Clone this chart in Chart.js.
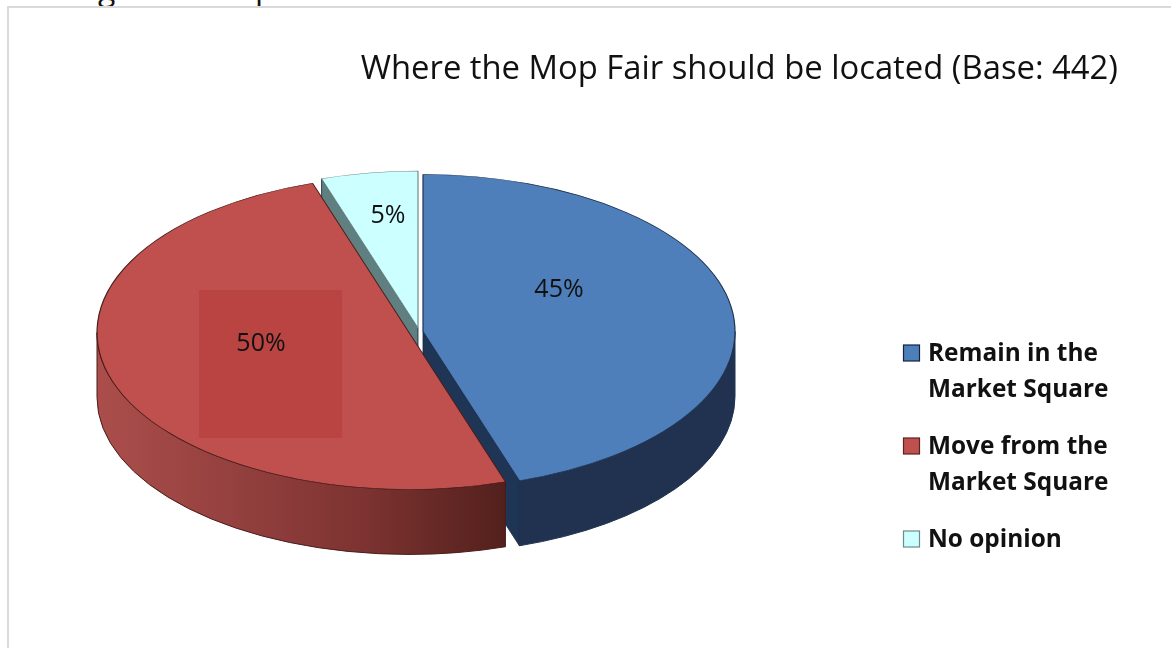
<!DOCTYPE html>
<html><head><meta charset="utf-8">
<script src="https://cdn.jsdelivr.net/npm/chart.js@4/dist/chart.umd.min.js"></script>
<style>
html,body{margin:0;padding:0;background:#fff;overflow:hidden;width:1171px;height:648px}
#frame{position:absolute;left:7px;top:6px;width:1300px;height:800px;border:2px solid #d9d9d9;box-sizing:border-box}
canvas{position:absolute;left:0;top:0}
.cut{position:absolute;font:32px "Open Sans";color:#111;line-height:40px}
</style></head><body>
<div class="cut" style="left:98px;top:-32px">g</div>
<div class="cut" style="left:255px;top:-32px">p</div>
<div id="frame"></div>
<canvas id="c" width="1171" height="648"></canvas>
<script>
const categories = ['Remain in the Market Square', 'Move from the Market Square', 'No opinion'];
const legendLines = [['Remain in the', 'Market Square'], ['Move from the', 'Market Square'], ['No opinion']];
const values = [45, 50, 5];
const titleText = 'Where the Mop Fair should be located (Base: 442)';

const sliceColors = ['#4f7fbb', '#c0504d', '#ccffff'];
const sliceBorders = ['#1e3350', '#4a1c1a', '#6f8a8a'];
const faceColors = ['#1f3555', '#5a2320', '#5f7f80'];
const centers = [[423, 331.5], [409, 332.5], [418, 328]];
const labelPos = [[559, 290], [261, 344], [388, 216]];
const squash = 0.503, depth = 65;
const legendY = [354, 447, 540], lineGap = 36.5;

const pie3d = {
  id: 'pie3d',
  beforeDatasetsDraw(chart) {
    const ctx = chart.ctx, arcs = chart.getDatasetMeta(0).data;
    const wall = (i, fill) => {
      const a = arcs[i], [cx, cy] = centers[i], R = a.outerRadius;
      const s = Math.max(a.startAngle, 0), e = Math.min(a.endAngle, Math.PI);
      if (e <= s) return;
      ctx.beginPath();
      ctx.ellipse(cx, cy, R, R * squash, 0, s, e);
      ctx.ellipse(cx, cy + depth, R, R * squash, 0, e, s, true);
      ctx.closePath();
      ctx.fillStyle = fill; ctx.fill();
      ctx.strokeStyle = sliceBorders[i]; ctx.lineWidth = 1; ctx.stroke();
    };
    const cutFace = (i, ang) => {
      const a = arcs[i], [cx, cy] = centers[i], R = a.outerRadius;
      const ex = cx + R * Math.cos(ang), ey = cy + R * squash * Math.sin(ang);
      ctx.beginPath();
      ctx.moveTo(cx, cy); ctx.lineTo(ex, ey); ctx.lineTo(ex, ey + depth); ctx.lineTo(cx, cy + depth);
      ctx.closePath();
      ctx.fillStyle = faceColors[i]; ctx.fill();
      ctx.strokeStyle = '#14233a'; ctx.lineWidth = 0.8; ctx.stroke();
    };
    const top = i => {
      const a = arcs[i], [cx, cy] = centers[i];
      ctx.save();
      ctx.translate(cx, cy); ctx.scale(1, squash); ctx.translate(-a.x, -a.y);
      a.draw(ctx);
      ctx.restore();
    };
    // green slice (back)
    cutFace(2, arcs[2].startAngle);
    top(2);
    // blue slice
    cutFace(0, arcs[0].endAngle);
    wall(0, '#20324f');
    top(0);
    // red slice (front)
    const g = ctx.createLinearGradient(97, 0, 507, 0);
    g.addColorStop(0, '#ab4e4b'); g.addColorStop(0.3, '#964240');
    g.addColorStop(0.65, '#7d3331'); g.addColorStop(1, '#52201c');
    wall(1, g);
    top(1);
    // tinted block behind the 50% label
    ctx.fillStyle = 'rgba(178,50,50,0.4)';
    ctx.fillRect(199, 290, 143, 148);
    // value labels
    ctx.fillStyle = '#111'; ctx.textAlign = 'center'; ctx.textBaseline = 'middle';
    ctx.font = '25px "Open Sans"';
    values.forEach((v, i) => ctx.fillText(v + '%', labelPos[i][0], labelPos[i][1]));
    return false;
  },
  afterDraw(chart) {
    const ctx = chart.ctx;
    ctx.save();
    ctx.textAlign = 'left'; ctx.textBaseline = 'middle';
    ctx.font = 'bold 24.4px "Open Sans"';
    legendLines.forEach((lines, i) => {
      const y = legendY[i];
      ctx.fillStyle = sliceColors[i];
      ctx.fillRect(903.5, y - 9, 16, 16);
      ctx.strokeStyle = ['#14233a', '#5a2320', '#6f8a8a'][i]; ctx.lineWidth = 1.2;
      ctx.strokeRect(903.5, y - 9, 16, 16);
      ctx.fillStyle = '#111';
      lines.forEach((t, j) => ctx.fillText(t, 928, y + j * lineGap));
    });
    ctx.restore();
  }
};

new Chart(document.getElementById('c'), {
  type: 'pie',
  data: {
    labels: categories,
    datasets: [{
      data: values,
      backgroundColor: sliceColors,
      borderColor: sliceBorders,
      borderWidth: 1.2,
      borderJoinStyle: 'bevel',
      clip: false
    }]
  },
  plugins: [pie3d],
  options: {
    responsive: false,
    animation: false,
    radius: 312,
    layout: { padding: { top: 50, right: 53, left: 0, bottom: 0 } },
    plugins: {
      legend: { display: false },
      tooltip: { enabled: false },
      title: {
        display: true, text: titleText, align: 'end', fullSize: false,
        color: '#111', font: { family: 'Open Sans', size: 32.8, weight: 'normal' },
        padding: { top: 0, bottom: 0 }
      }
    }
  }
});
</script>
</body></html>
